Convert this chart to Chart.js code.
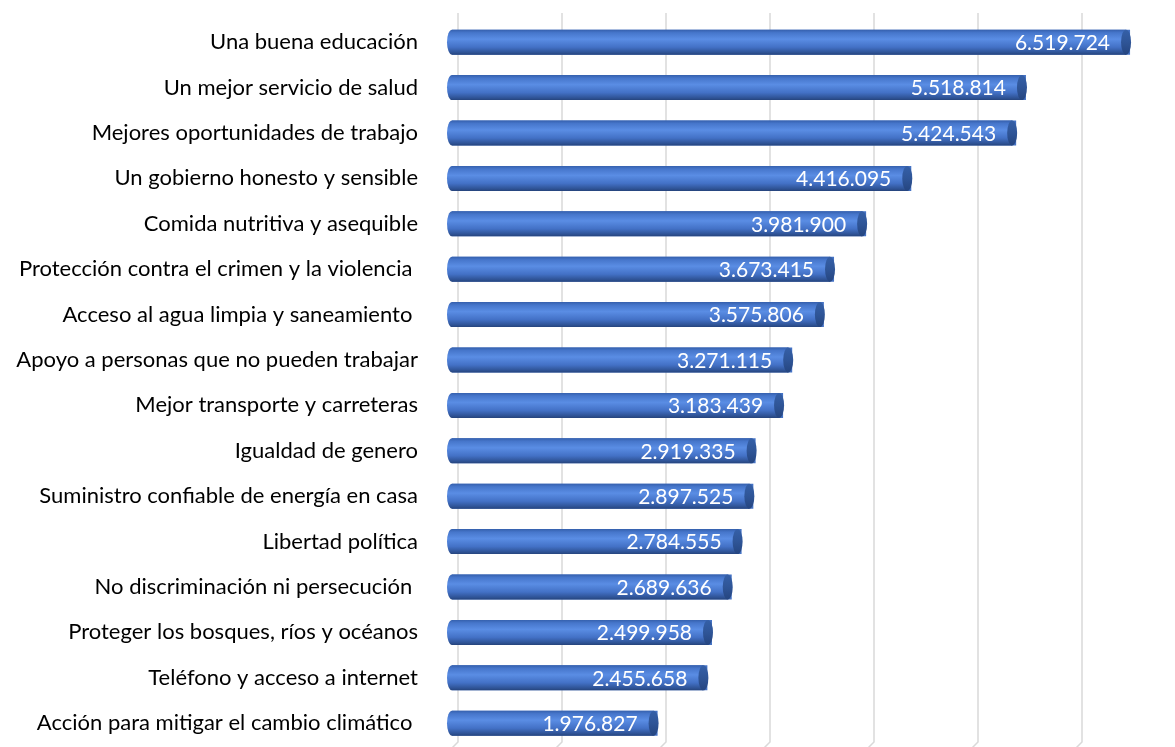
<!DOCTYPE html>
<html>
<head>
<meta charset="utf-8">
<script src="https://cdn.jsdelivr.net/npm/chart.js@4"></script>
<style>
body{margin:0;background:#fff;}
#marco{width:1175px;height:747px;overflow:hidden;}
</style>
</head>
<body>
<div id="marco"><canvas id="grafico" width="1180" height="747"></canvas></div>
<script>
const categorias = [
'Una buena educación',
'Un mejor servicio de salud',
'Mejores oportunidades de trabajo',
'Un gobierno honesto y sensible',
'Comida nutritiva y asequible',
'Protección contra el crimen y la violencia ',
'Acceso al agua limpia y saneamiento ',
'Apoyo a personas que no pueden trabajar',
'Mejor transporte y carreteras',
'Igualdad de genero',
'Suministro confiable de energía en casa',
'Libertad política',
'No discriminación ni persecución ',
'Proteger los bosques, ríos y océanos',
'Teléfono y acceso a internet',
'Acción para mitigar el cambio climático '
];

const valores = [6519724, 5518814, 5424543, 4416095, 3981900, 3673415, 3575806, 3271115, 3183439, 2919335, 2897525, 2784555, 2689636, 2499958, 2455658, 1976827];

const ejeMin = 0;
const ejeMax = 7000000;
const pasoEje = 1000000;

function formato(v){
return String(v).replace(/\B(?=(\d{3})+(?!\d))/g, '.');
}

// lineas de fondo desplazadas (efecto 3D)
const fondo = {
id:'fondo',
beforeDatasetsDraw(chart){
const c = chart.ctx;
const xs = chart.scales.x;
c.save();
c.strokeStyle = '#d9d9d9';
c.lineWidth = 1.5;
for(let v = ejeMin; v < ejeMax; v += pasoEje){
const px = xs.getPixelForValue(v) + 6;
c.beginPath();
c.moveTo(px, 13);
c.lineTo(px, 742);
c.lineTo(px - 8, 750);
c.stroke();
}
c.restore();
}
};

// cilindros y etiquetas
const cilindros = {
id:'cilindros',
afterDatasetsDraw(chart){
const c = chart.ctx;
const meta = chart.getDatasetMeta(0);
meta.data.forEach((el, i) => {
const h = el.height;
const top = el.y - h/2;
const rx = 5;
const izq = el.base;
const der = el.x - 4;
const g = c.createLinearGradient(0, top, 0, top + h);
g.addColorStop(0, '#3560AD');
g.addColorStop(0.12, '#4676CB');
g.addColorStop(0.38, '#5A8DE4');
g.addColorStop(0.7, '#4371C6');
g.addColorStop(0.92, '#2E5294');
g.addColorStop(1, '#26447C');
c.save();
c.fillStyle = g;
c.beginPath();
c.ellipse(izq, el.y, rx, h/2, 0, Math.PI/2, Math.PI*1.5);
c.lineTo(der, top);
c.lineTo(der, top + h);
c.closePath();
c.fill();
// tapa
const gt = c.createLinearGradient(0, top, 0, top + h);
gt.addColorStop(0, '#3560A8');
gt.addColorStop(0.5, '#2F5597');
gt.addColorStop(1, '#254580');
c.fillStyle = gt;
c.beginPath();
c.ellipse(der, el.y, rx, h/2, 0, 0, Math.PI*2);
c.fill();
// etiqueta
c.fillStyle = '#ffffff';
c.font = '21px Lato';
c.textAlign = 'right';
c.textBaseline = 'middle';
c.fillText(formato(valores[i]), el.x - 20, el.y + 1);
c.restore();
});
}
};

const ctx = document.getElementById('grafico');

new Chart(ctx, {
type:'bar',
data:{
labels:categorias,
datasets:[{
data:valores,
backgroundColor:'#4472C4',
borderWidth:0,
barPercentage:0.55,
categoryPercentage:1
}]
},
options:{
indexAxis:'y',
responsive:false,
animation:false,
layout:{padding:{top:19.5, bottom:1, left:0, right:0}},
plugins:{legend:{display:false}, tooltip:{enabled:false}},
scales:{
x:{
display:false,
min:ejeMin,
max:ejeMax,
ticks:{stepSize:pasoEje}
},
y:{
grid:{display:true, drawOnChartArea:false, drawTicks:true, tickLength:34, color:'rgba(0,0,0,0)'},
border:{display:false},
afterFit(scale){ scale.width = 452; },
ticks:{
padding:0,
color:'#000000',
font:{family:'Lato', size:22, lineHeight:0.1}
}
}
}
},
plugins:[fondo, cilindros]
});
</script>
</body>
</html>
